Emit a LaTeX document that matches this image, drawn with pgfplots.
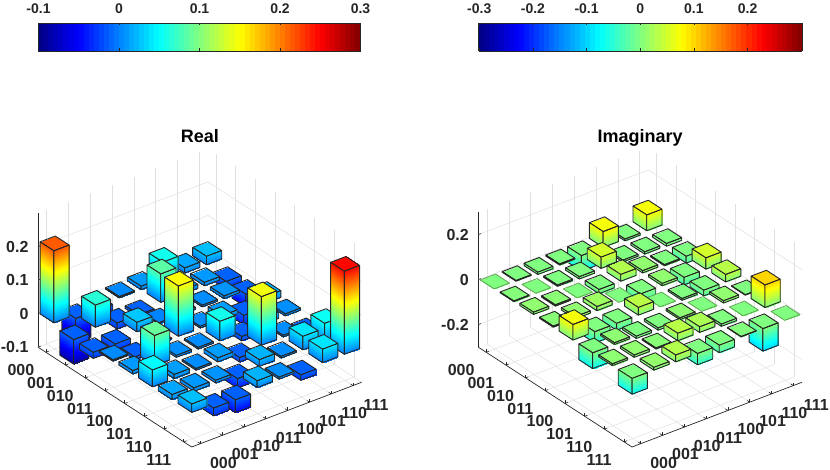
\documentclass[border=0pt]{standalone}
\usepackage{fontspec}
\usepackage{pgfplots}
\usepackage{pgfplotstable}
\pgfplotsset{compat=1.18}
\setmainfont{Liberation Sans}
\definecolor{ink}{HTML}{262626}
\definecolor{tileedge}{HTML}{5FA552}

% rows 000..111, columns 000..111
\pgfplotstableread{
c0 c1 c2 c3 c4 c5 c6 c7
0.215 -0.085 -0.03 0.004 0.01 0.057 0.015 0.025
-0.085 0.066 -0.03 -0.02 0.085 0.012 0.01 -0.035
-0.03 -0.03 0.028 0.002 0.006 0.005 0.008 -0.05
0.004 -0.02 0.002 0.15 0.005 0.012 -0.04 0.02
0.01 0.09 0.006 0.005 0.058 -0.025 0.02 0.006
0.05 0.012 0.005 0.012 -0.025 0.145 0.005 -0.028
0.015 0.01 0.008 -0.04 0.02 0.005 0.04 0.054
0.025 -0.035 -0.05 0.02 0.006 -0.028 0.04 0.248
}\realbars

\pgfplotstableread{
c0 c1 c2 c3 c4 c5 c6 c7
0 -0.003 -0.01 -0.005 -0.069 0.07 -0.008 0.07
0.003 0 -0.006 -0.01 0.05 -0.008 -0.01 -0.012
0.01 0.006 0 -0.018 0.03 0.01 -0.005 -0.03
0.005 0.01 0.018 0 -0.034 0.01 -0.033 0.05
0.069 -0.05 -0.03 0.034 0 -0.008 -0.025 0.033
-0.07 0.008 -0.01 -0.01 0.008 0 0.01 -0.002
0.008 0.01 0.005 0.033 0.025 -0.01 0 0.1
-0.07 0.012 0.03 -0.05 -0.033 0.002 -0.1 0
}\imagbars

\pgfplotsset{
  myjet/.style={colormap={myjet}{rgb255=(0,0,128) rgb255=(0,0,255) rgb255=(0,128,255) rgb255=(0,255,255)
      rgb255=(128,255,128) rgb255=(255,255,0) rgb255=(255,128,0) rgb255=(255,0,0) rgb255=(128,0,0)}},
  barface/.style={patch, patch type=rectangle, shader=faceted interp,
    faceted color=ink, line width=.9pt, point meta=z},
  tileface/.style={patch, patch type=rectangle, shader=faceted interp,
    faceted color=tileedge, line width=.8pt, point meta=z},
  chip/.style={
    disabledatascaling, clip=false, myjet,
    x={(21.8pt,8.3pt)}, y={(-19.7pt,12.8pt)},
    xmin=0.6, xmax=8.4, ymin=0.6, ymax=8.4,
    axis lines=left, axis line style={draw=ink, line width=.7pt, -},
    grid=major, grid style={draw=black!12, line width=.5pt},
    tick align=inside, major tick length=3pt, tick style={draw=ink, line width=.6pt},
    xtick={1,...,8}, ytick={1,...,8},
    xticklabels={000,001,010,011,100,101,110,111},
    yticklabels={111,110,101,100,011,010,001,000},
    tick label style={font=\bfseries\fontsize{16}{16}\selectfont, text=ink},
    xticklabel style={anchor=center, xshift=23pt, yshift=-19pt},
    yticklabel style={anchor=center, xshift=-25pt, yshift=-18pt},
    zticklabel style={anchor=east, xshift=-6pt},
    title style={font=\bfseries\fontsize{18}{18}\selectfont, text=black},
  },
  % empty hidden axis that only carries the colour scale
  scalebar/.style={
    hide axis, scale only axis, myjet, height=28pt,
    ymin=0, ymax=1, anchor=south west,
    colorbar horizontal, colorbar sampled,
    colorbar style={
      at={(0,0)}, anchor=south west,
      scale only axis, height=28pt, samples=65,
      ticklabel pos=upper, tick align=inside, major tick length=2.5pt,
      tick style={draw=ink, line width=.6pt},
      axis line style={draw=ink, line width=.7pt},
      xticklabel style={font=\bfseries\fontsize{14}{14}\selectfont, text=ink, yshift=6pt},
    },
  },
}

% #1 table, #2 height of the top face of a bar that goes below zero
\newcommand\drawbars[2]{%
  \pgfplotsforeachungrouped \rw in {0,...,7}{%
    \pgfplotsforeachungrouped \cl in {7,6,...,0}{%
      \pgfplotstablegetelem{\rw}{[index]\cl}\of{#1}%
      \pgfmathsetmacro\val{\pgfplotsretval}%
      \pgfmathsetmacro\lo{\val<0 ? \val : 0}%
      \pgfmathsetmacro\hi{\val<0 ? #2 : \val}%
      \pgfmathsetmacro\xa{\cl+1-.35}%
      \pgfmathsetmacro\xb{\cl+1+.35}%
      \pgfmathsetmacro\ya{8-\rw-.35}%
      \pgfmathsetmacro\yb{8-\rw+.35}%
      \ifdim\lo pt=\hi pt
        \addplot3[tileface] coordinates {(\xa,\ya,\hi) (\xb,\ya,\hi) (\xb,\yb,\hi) (\xa,\yb,\hi)};
      \else
        \addplot3[barface] coordinates {
          (\xa,\ya,\lo) (\xa,\yb,\lo) (\xa,\yb,\hi) (\xa,\ya,\hi)
          (\xa,\ya,\lo) (\xb,\ya,\lo) (\xb,\ya,\hi) (\xa,\ya,\hi)
          (\xa,\ya,\hi) (\xb,\ya,\hi) (\xb,\yb,\hi) (\xa,\yb,\hi)};
      \fi
    }%
  }%
}

\begin{document}
\begin{tikzpicture}
\path[use as bounding box] (0,0) rectangle (830pt,470pt);

\begin{axis}[chip,
  at={(38pt,23pt)}, anchor=south west,
  z={(0pt,335pt)}, zmin=-0.1, zmax=0.3,
  ztick={-0.1,0,0.1,0.2}, zticklabels={-0.1,0,0.1,0.2},
  point meta min=-0.1, point meta max=0.3,
  title={Real}, title style={yshift=-4pt},
]
\drawbars{\realbars}{-0.012}
\end{axis}

\begin{axis}[chip,
  at={(478.3pt,23pt)}, anchor=south west,
  z={(0pt,225pt)}, zmin=-0.3, zmax=0.3,
  ztick={-0.2,0,0.2}, zticklabels={-0.2,0,0.2},
  point meta min=-0.3, point meta max=0.3,
  title={Imaginary}, title style={yshift=-8pt},
]
\drawbars{\imagbars}{0}
\end{axis}

\begin{axis}[scalebar,
  at={(38.5pt,419pt)}, width=322pt, xmin=-0.1, xmax=0.3,
  point meta min=-0.1, point meta max=0.3,
  colorbar style={width=322pt,
    xtick={-0.1,0,0.1,0.2,0.3}, xticklabels={-0.1,0,0.1,0.2,0.3}},
]
\addplot[draw=none] coordinates {(0,0)};
\end{axis}

\begin{axis}[scalebar,
  at={(478.7pt,419pt)}, width=323.6pt, xmin=-0.3, xmax=0.3,
  point meta min=-0.301, point meta max=0.302,
  colorbar style={width=323.6pt,
    xtick={-0.3,-0.2,-0.1,0,0.1,0.2}, xticklabels={-0.3,-0.2,-0.1,0,0.1,0.2}},
]
\addplot[draw=none] coordinates {(0,0)};
\end{axis}
\end{tikzpicture}
\end{document}
